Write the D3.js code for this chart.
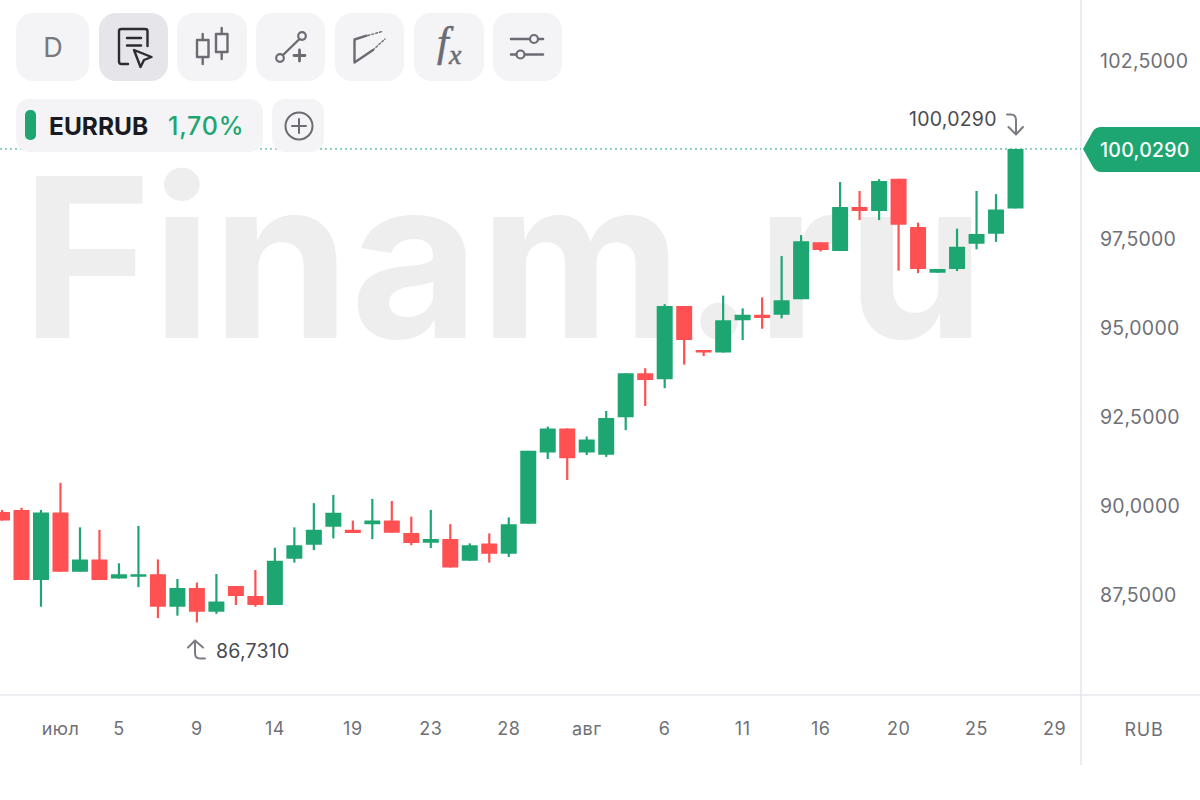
<!DOCTYPE html>
<html>
<head>
<meta charset="utf-8">
<script src="https://cdn.jsdelivr.net/npm/d3@7/dist/d3.min.js"></script>
<style>
  html, body { margin: 0; padding: 0; background: #fff; }
  svg { display: block; font-family: Inter, "Noto Sans", sans-serif; }
</style>
</head>
<body>
<div id="chart"></div>
<script>
// candles, left to right
const opens = [89.83,89.89,87.92,89.82,88.15,88.50,87.96,88.01,88.08,87.17,87.70,87.03,87.75,87.47,87.22,88.52,88.91,89.42,89.33,89.49,89.59,89.24,88.97,89.07,88.46,88.95,88.66,89.50,91.50,92.18,91.50,91.44,92.49,93.73,93.56,95.62,94.38,94.31,95.22,95.37,95.37,95.81,97.41,97.16,98.40,98.29,99.19,97.84,96.55,96.66,97.37,97.65,98.36];
const highs = [89.89,89.95,89.89,90.65,89.40,89.33,88.39,89.44,88.50,87.95,87.85,88.09,87.75,88.20,88.83,89.40,90.08,90.31,89.59,90.20,90.14,89.70,89.89,89.49,88.95,89.23,89.68,91.55,92.23,92.18,91.95,92.67,93.73,93.87,95.67,95.62,94.38,95.91,95.55,95.86,97.02,97.61,97.41,99.10,98.85,99.18,99.19,97.96,96.66,97.79,98.85,98.76,100.029];
const lows = [89.59,87.92,87.17,88.15,88.15,87.92,87.96,87.72,86.85,86.92,86.731,86.97,87.22,87.17,87.22,88.41,88.76,89.09,89.24,89.07,89.25,88.90,88.82,88.27,88.46,88.41,88.57,89.50,91.32,90.73,91.43,91.38,92.13,92.81,93.31,93.97,94.21,94.31,94.66,94.98,95.27,95.81,97.15,97.16,98.03,98.03,96.61,96.54,96.55,96.60,97.21,97.42,98.36];
const closes = [89.59,87.92,89.82,88.15,88.50,87.92,88.08,88.08,87.17,87.70,87.03,87.32,87.47,87.22,88.46,88.90,89.33,89.81,89.24,89.59,89.25,88.96,89.07,88.27,88.90,88.66,89.49,91.55,92.18,91.34,91.87,92.47,93.73,93.54,95.62,94.66,94.31,95.22,95.37,95.28,95.78,97.44,97.19,98.40,98.29,99.13,97.90,96.66,96.66,97.28,97.64,98.33,100.029];

const priceTicks = [87.5, 90, 92.5, 95, 97.5, 102.5];
const dateTickIndex = [3, 6, 10, 14, 18, 22, 26, 30, 34, 38, 42, 46, 50, 54];
const dateTickLabels = ['июл', '5', '9', '14', '19', '23', '28', 'авг', '6', '11', '16', '20', '25', '29'];

const lastPrice = 100.029;
const maxPrice = 100.029;
const minPrice = 86.731;
const changeLabel = '1,70%';

const GREEN = '#1ea672', RED = '#ff5152', GREY = '#6f7077', BTN = '#f4f4f6', ICON = '#6b6c73';
const W = 1200, H = 800, axisX = 1081, axisY = 695;
const fmt = v => d3.format('.4f')(v).replace('.', ',');

const svg = d3.select('#chart').append('svg').attr('width', W).attr('height', H);

const x = d3.scaleLinear().domain([0, 54]).range([2, 1054.5]);
const y = d3.scaleLinear().domain([87.5, 102.5]).range([595, 61]);

// watermark
svg.append('text')
  .attr('x', 21.5).attr('y', 337.5)
  .attr('textLength', 963.5).attr('lengthAdjust', 'spacing')
  .attr('font-size', 222).attr('font-weight', 700)
  .attr('fill', '#eeeeee')
  .text('Finam.ru');

// frame lines
svg.append('line').attr('x1', 0).attr('x2', W).attr('y1', axisY).attr('y2', axisY)
  .attr('stroke', '#e9e9ee').attr('stroke-width', 1.5);
svg.append('line').attr('x1', axisX).attr('x2', axisX).attr('y1', 0).attr('y2', 765)
  .attr('stroke', '#e6e6eb').attr('stroke-width', 1.5);

// last price line
svg.append('line').attr('x1', 0).attr('x2', axisX).attr('y1', y(lastPrice)).attr('y2', y(lastPrice))
  .attr('stroke', GREEN).attr('stroke-width', 1).attr('stroke-dasharray', '2 3');

// candles
const candles = svg.append('g');
opens.forEach((o, i) => {
  const c = closes[i];
  const col = c >= o ? GREEN : RED;
  candles.append('line')
    .attr('x1', x(i)).attr('x2', x(i))
    .attr('y1', y(highs[i])).attr('y2', y(lows[i]))
    .attr('stroke', col).attr('stroke-width', 2.2);
  candles.append('rect')
    .attr('x', x(i) - 8).attr('width', 16)
    .attr('y', y(Math.max(o, c)))
    .attr('height', Math.max(2.5, Math.abs(y(o) - y(c))))
    .attr('fill', col).attr('rx', 0.5);
});

// axes
const yAxis = d3.axisRight(y).tickValues(priceTicks).tickFormat(fmt).tickSize(0).tickPadding(0);
const gy = svg.append('g').attr('transform', 'translate(1100,0.5)').call(yAxis);
gy.select('.domain').remove();
gy.selectAll('text').attr('font-family', 'Inter, sans-serif').attr('font-size', 19.5)
  .attr('letter-spacing', 0.25).attr('fill', GREY);

const xAxis = d3.axisBottom(x).tickValues(dateTickIndex)
  .tickFormat(d => dateTickLabels[dateTickIndex.indexOf(d)]).tickSize(0).tickPadding(0);
const gx = svg.append('g').attr('transform', 'translate(-0.5,722.5)').call(xAxis);
gx.select('.domain').remove();
gx.selectAll('text').attr('font-family', 'Inter, sans-serif').attr('font-size', 18)
  .attr('letter-spacing', 0.5).attr('fill', GREY);

svg.append('text').attr('x', 1144).attr('y', 736).attr('text-anchor', 'middle')
  .attr('font-size', 18).attr('letter-spacing', 0.8).attr('fill', GREY).text('RUB');

// price tag
const ty = y(lastPrice);
svg.append('path')
  .attr('d', `M1083,${ty} L1093,${ty - 18} Q1096,${ty - 22} 1101,${ty - 22} L1200,${ty - 22} L1200,${ty + 23} L1101,${ty + 23} Q1096,${ty + 23} 1093,${ty + 18} Z`)
  .attr('fill', GREEN);
svg.append('text').attr('x', 1100).attr('y', ty + 8)
  .attr('font-size', 19.5).attr('letter-spacing', 0.25).attr('font-weight', 500).attr('fill', '#fff').text(fmt(lastPrice));

// max / min labels with hook arrows
const arrow = (d) => svg.append('path').attr('d', d).attr('fill', 'none')
  .attr('stroke', '#7b7c83').attr('stroke-width', 2).attr('stroke-linecap', 'round').attr('stroke-linejoin', 'round');

svg.append('text').attr('x', 909).attr('y', y(maxPrice) - 22.5)
  .attr('font-size', 19.5).attr('letter-spacing', 0.25).attr('fill', '#4a4b52').text(fmt(maxPrice));
arrow('M1007,114.5 H1011 Q1016,114.5 1016,120 V134 M1008.5,127 L1016,134.5 L1023,127');

svg.append('text').attr('x', 216).attr('y', 658)
  .attr('font-size', 19.5).attr('letter-spacing', 0.25).attr('fill', '#4a4b52').text(fmt(minPrice));
arrow('M205,658.5 H200 Q195,658.5 195,653 V640.5 M188,647.5 L195,640.5 L203,647.5');

// toolbar
const btnX = [[16, 73], [99, 69], [177, 70], [256, 69], [335, 69], [414, 70], [493, 69]];
btnX.forEach((b, i) => {
  svg.append('rect').attr('x', b[0]).attr('y', 13).attr('width', b[1]).attr('height', 68).attr('rx', 17)
    .attr('fill', i === 1 ? '#e6e6ea' : BTN);
});
svg.append('text').attr('x', 53).attr('y', 57).attr('text-anchor', 'middle')
  .attr('font-size', 27).attr('fill', '#77787e').text('D');

const icon = (d, col, w) => svg.append('path').attr('d', d).attr('fill', 'none')
  .attr('stroke', col || ICON).attr('stroke-width', w || 2.4)
  .attr('stroke-linecap', 'round').attr('stroke-linejoin', 'round');
const ring = (cx, cy, r) => svg.append('circle').attr('cx', cx).attr('cy', cy).attr('r', r)
  .attr('fill', 'none').attr('stroke', ICON).attr('stroke-width', 2.2);

// notes + cursor
icon('M147.5,46 V31 Q147.5,29 145,29 H121.5 Q119,29 119,31 V61.5 Q119,64 121.5,64 H128 M127,38 H141 M127,45.5 H141', '#2b2c33', 2.4);
icon('M134,50 L151.5,57 L144,60 L140.5,67 Z', '#2b2c33', 2.4);
// candles icon
icon('M197,40 H208.5 V57 H197 Z M202.7,34 V40 M202.7,57 V64 M216,34 H227.5 V52 H216 Z M221.7,28 V34 M221.7,52 V59');
// line + plus
ring(302, 36, 3.8);
ring(280, 58, 3.8);
icon('M283,55 L299.5,39');
icon('M294,55.5 H305 M299.5,50 V61', ICON, 2.8);
// channel
icon('M366.5,35.7 L354.5,39.5 V62.5 L373,50');
icon('M368,35.5 L382,31.5 M373,50 L385,39', ICON, 1.4).attr('stroke-dasharray', '2 2');
// fx
svg.append('text').attr('x', 437).attr('y', 56).attr('font-family', 'Liberation Serif, serif').attr('font-style', 'italic')
  .attr('font-size', 42).attr('fill', ICON).attr('stroke', ICON).attr('stroke-width', 0.5).text('f');
svg.append('text').attr('x', 449).attr('y', 64).attr('font-family', 'Liberation Serif, serif').attr('font-style', 'italic')
  .attr('font-size', 28).attr('fill', ICON).attr('stroke', ICON).attr('stroke-width', 0.5).text('x');
// sliders
icon('M511,39 H529.5 M538.5,39 H543 M511,54.5 H516 M525,54.5 H543', ICON, 2.6);
ring(534, 39, 4);
ring(520.5, 54.5, 4);

// legend pill
svg.append('rect').attr('x', 16).attr('y', 99).attr('width', 247).attr('height', 53).attr('rx', 13).attr('fill', BTN);
svg.append('rect').attr('x', 25).attr('y', 110).attr('width', 11).attr('height', 30).attr('rx', 5).attr('fill', GREEN);
svg.append('text').attr('x', 49).attr('y', 134.5).attr('font-size', 24.5).attr('font-weight', 700).attr('fill', '#1a1b22').text('EURRUB');
svg.append('text').attr('x', 168).attr('y', 134.5).attr('font-size', 25).attr('font-weight', 500).attr('letter-spacing', 0.8).attr('fill', GREEN).text(changeLabel);

svg.append('rect').attr('x', 272).attr('y', 99).attr('width', 52).attr('height', 53).attr('rx', 13).attr('fill', BTN);
svg.append('circle').attr('cx', 299).attr('cy', 126).attr('r', 13.5).attr('fill', 'none').attr('stroke', '#6b6c73').attr('stroke-width', 2);
icon('M292,126 H306 M299,119 V133', '#6b6c73', 2);
</script>
</body>
</html>
